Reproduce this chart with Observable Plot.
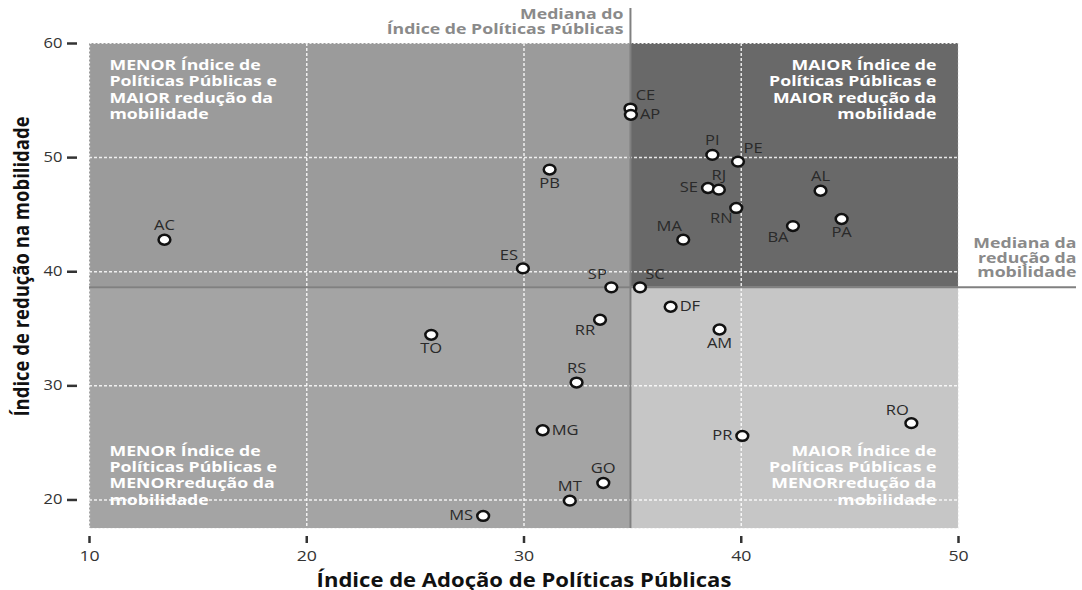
<!DOCTYPE html>
<html><head><meta charset="utf-8">
<script src="https://cdn.jsdelivr.net/npm/d3@7"></script>
<script src="https://cdn.jsdelivr.net/npm/@observablehq/plot@0.6"></script>
<style>body{margin:0;background:#fff;font-family:"Open Sans",sans-serif}</style>
</head><body><div id="chart"></div>
<script>
// ---- data ----
const states = ["AC","CE","AP","PB","PI","PE","SE","RJ","RN","MA","AL","BA","PA","ES","SP","SC","DF","RR","TO","AM","RS","MG","GO","MT","MS","PR","RO"];
const policyIndex = [13.45,34.9,34.92,31.18,38.67,39.85,38.47,38.97,39.77,37.33,43.65,42.38,44.62,29.95,34.02,35.34,36.75,33.5,25.73,39.0,32.42,30.86,33.65,32.11,28.12,40.05,47.83];
const mobilityReduction = [42.8,54.3,53.75,48.95,50.24,49.65,47.34,47.19,45.59,42.81,47.1,44.0,44.62,40.29,38.63,38.63,36.93,35.79,34.47,34.94,30.29,26.11,21.49,19.94,18.6,25.61,26.73];
const labelSide = ["N","NE","E","S","N","NE","W","N","SW","NW","N","SW","S","NW","NW","NE","E","SW","S","S","N","E","N","N","W","W","NW"];
const medianPolicy = 34.9;
const medianMobility = 38.63;
const xTicks = [10,20,30,40,50];
const yTicks = [20,30,40,50,60];
const xDomain = [10,50];
const yDomain = [17.5,60];
const xLabel = "Índice de Adoção de Políticas Públicas";
const yLabel = "Índice de redução na mobilidade";
const medianPolicyLabel = "Mediana do\nÍndice de Políticas Públicas";
const medianMobilityLabel = "Mediana da\nredução da\nmobilidade";
const quadTopLeft = "MENOR Índice de\nPolíticas Públicas e\nMAIOR redução da\nmobilidade";
const quadTopRight = "MAIOR Índice de\nPolíticas Públicas e\nMAIOR redução da\nmobilidade";
const quadBottomLeft = "MENOR Índice de\nPolíticas Públicas e\nMENORredução da\nmobilidade";
const quadBottomRight = "MAIOR Índice de\nPolíticas Públicas e\nMENORredução da\nmobilidade";

// ---- build ----
const stretch = 1.18; // the reference's glyphs are horizontally stretched
const points = states.map((s, i) => ({state: s, x: policyIndex[i], y: mobilityReduction[i], side: labelSide[i]}));
const quads = [
  {x1: xDomain[0], x2: medianPolicy, y1: medianMobility, y2: yDomain[1], fill: "#9b9b9b"},
  {x1: medianPolicy, x2: xDomain[1], y1: medianMobility, y2: yDomain[1], fill: "#696969"},
  {x1: xDomain[0], x2: medianPolicy, y1: yDomain[0], y2: medianMobility, fill: "#a4a4a4"},
  {x1: medianPolicy, x2: xDomain[1], y1: yDomain[0], y2: medianMobility, fill: "#c6c6c6"}
];
const offsets = {
  N: {dx: 0, dy: -14, textAnchor: "middle"},
  S: {dx: 0, dy: 14, textAnchor: "middle"},
  E: {dx: 9, dy: 0, textAnchor: "start"},
  W: {dx: -10, dy: 0, textAnchor: "end"},
  NE: {dx: 15, dy: -13, textAnchor: "middle"},
  NW: {dx: -14, dy: -13, textAnchor: "middle"},
  SW: {dx: -15, dy: 11, textAnchor: "middle"}
};
const labelMarks = Object.entries(offsets).map(([side, o]) =>
  Plot.text(points.filter(d => d.side === side), {x: "x", y: "y", text: "state", dx: o.dx, dy: o.dy, textAnchor: o.textAnchor, fontSize: 14, fill: "#2a2a2a"})
);
const quadStyle = {fill: "white", fontWeight: 700, fontSize: 15, lineHeight: 1.087};
const ellipse = {
  draw(ctx, size) {
    const r = Math.sqrt(size / Math.PI), a = r * 1.09, b = r * 0.91, k = 0.5523;
    ctx.moveTo(a, 0);
    ctx.bezierCurveTo(a, b * k, a * k, b, 0, b);
    ctx.bezierCurveTo(-a * k, b, -a, b * k, -a, 0);
    ctx.bezierCurveTo(-a, -b * k, -a * k, -b, 0, -b);
    ctx.bezierCurveTo(a * k, -b, a, -b * k, a, 0);
    ctx.closePath();
  }
};

const chart = Plot.plot({
  width: 1082, height: 590,
  marginLeft: 89, marginRight: 124, marginTop: 43, marginBottom: 62,
  x: {domain: xDomain},
  y: {domain: yDomain},
  style: {fontFamily: "'Open Sans', sans-serif", background: "white", overflow: "visible"},
  marks: [
    Plot.rect(quads, {x1: "x1", x2: "x2", y1: "y1", y2: "y2", fill: d => d.fill}),
    Plot.gridX([20,30,40], {stroke: "white", strokeOpacity: 0.85, strokeWidth: 1.5, strokeDasharray: "3,2"}),
    Plot.gridY([20,30,40,50], {stroke: "white", strokeOpacity: 0.85, strokeWidth: 1.5, strokeDasharray: "3,2"}),
    Plot.frame({stroke: "#f0f0f0", strokeWidth: 1.2, strokeDasharray: "2,2"}),
    Plot.ruleX([medianPolicy], {stroke: "#808080", strokeWidth: 2, insetTop: -35}),
    Plot.ruleY([medianMobility], {stroke: "#808080", strokeWidth: 2, insetRight: -118}),
    Plot.text([medianPolicy], {x: d => d, frameAnchor: "top", text: () => medianPolicyLabel, textAnchor: "end", lineAnchor: "bottom", dx: -7, dy: -10, fontSize: 15, fontWeight: 700, fill: "#8a8a8a", lineHeight: 0.967}),
    Plot.text([medianMobility], {y: d => d, frameAnchor: "right", text: () => medianMobilityLabel, textAnchor: "end", lineAnchor: "bottom", dx: 118, dy: -10, fontSize: 15, fontWeight: 700, fill: "#8a8a8a", lineHeight: 0.967}),
    Plot.text([quadTopLeft], {frameAnchor: "top-left", text: d => d, textAnchor: "start", lineAnchor: "top", dx: 20, dy: 15, ...quadStyle}),
    Plot.text([quadTopRight], {frameAnchor: "top-right", text: d => d, textAnchor: "end", lineAnchor: "top", dx: -22, dy: 15, ...quadStyle}),
    Plot.text([quadBottomLeft], {frameAnchor: "bottom-left", text: d => d, textAnchor: "start", lineAnchor: "bottom", dx: 20, dy: -24, ...quadStyle}),
    Plot.text([quadBottomRight], {frameAnchor: "bottom-right", text: d => d, textAnchor: "end", lineAnchor: "bottom", dx: -22, dy: -24, ...quadStyle}),
    Plot.axisY(yTicks, {tickSize: 10, dx: -12, tickPadding: 5, fontSize: 14, strokeWidth: 2.5, color: "#333", label: null}),
    Plot.axisX(xTicks, {tickSize: 7, dy: 8, tickPadding: 7, fontSize: 15, strokeWidth: 2.5, color: "#333", label: null}),
    Plot.text([xLabel], {frameAnchor: "bottom", text: d => d, textAnchor: "middle", lineAnchor: "bottom", dy: 58, fontSize: 18.7, fontWeight: 700, fill: "#111"}),
    Plot.text([yLabel], {frameAnchor: "left", text: d => d, textAnchor: "middle", lineAnchor: "middle", rotate: -90, dx: -67, dy: -19.5, fontSize: 18.5, fontWeight: 700, fill: "#111"}),
    Plot.dot(points, {x: "x", y: "y", r: 5.4, symbol: ellipse, fill: "white", stroke: "#111", strokeWidth: 2.5}),
    ...labelMarks
  ]
});
// horizontal stretch of the glyphs, anchored at each text's own position
chart.querySelectorAll("text").forEach(t => {
  const tr = t.getAttribute("transform");
  if (!tr) return;
  t.setAttribute("transform", tr + (/rotate\(/.test(tr) ? ` scale(1,${stretch})` : ` scale(${stretch},1)`));
});
document.getElementById("chart").append(chart);
</script>
</body></html>
